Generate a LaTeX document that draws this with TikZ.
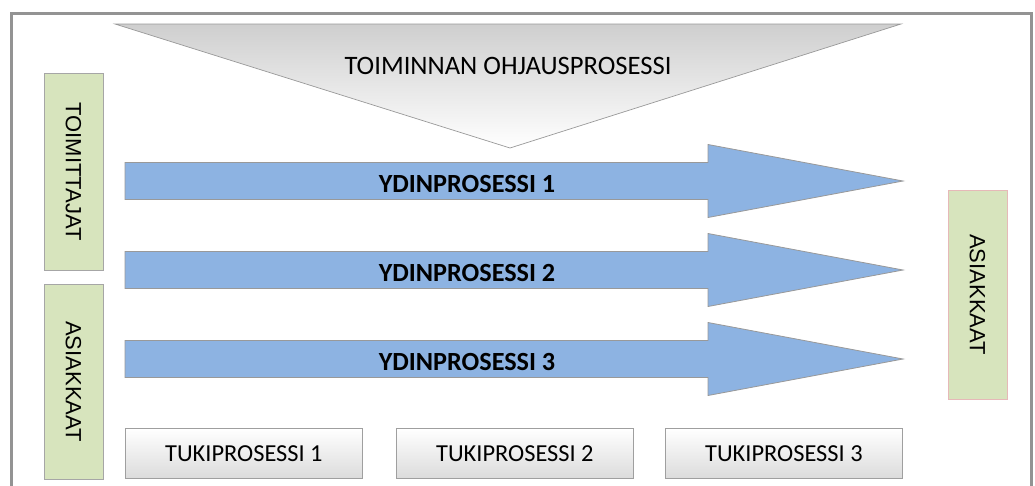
\documentclass[tikz,border=0pt]{standalone}
\usepackage{fontspec}
\setmainfont{Carlito}
\newfontfamily\arialfont{Liberation Sans}
\begin{document}
\begin{tikzpicture}[x=1pt,y=-1pt,
  sidebox/.style={draw=gray!70, line width=0.8pt},
  sidetext/.style={font=\arialfont\fontsize{22}{26}\selectfont, rotate=-90},
  flow/.style={draw=gray!80, line width=0.8pt},
  flowtext/.style={font=\bfseries\fontsize{26.2}{30}\selectfont},
  supportbox/.style={draw=gray!75, line width=0.8pt, top color=white, bottom color=gray!28,
    minimum width=237pt, minimum height=50pt, inner sep=0pt,
    font=\fontsize{24.4}{28}\selectfont, anchor=north west}]
\definecolor{flowblue}{HTML}{8DB3E2}
\definecolor{sidegreen}{HTML}{D7E4BD}
\definecolor{pinkedge}{HTML}{E6B9B8}
\useasboundingbox (0,0) rectangle (1035,485);
\clip (0,0) rectangle (1035,485);
\fill[white] (0,0) rectangle (1035,485);

% outer frame (runs off the bottom edge)
\draw[gray!85, line width=3pt] (11.5,13) rectangle (1031.5,500);

% management process: downward triangle
\shade[top color=gray!38, bottom color=white, draw=gray!80, line width=0.7pt]
  (115,24) -- (901,24) -- (510,148) -- cycle;
\node[font=\fontsize{26.6}{30}\selectfont] (ohjaus) at (508,66) {TOIMINNAN OHJAUSPROSESSI};

% suppliers and customers on the left
\draw[sidebox, fill=sidegreen] (44,73) rectangle (103,270);
\node[sidetext] (toimittajat) at (73.5,171.5) {TOIMITTAJAT};
\draw[sidebox, fill=sidegreen] (44,284) rectangle (103,479);
\node[sidetext] (asiakkaatL) at (73.5,381.5) {ASIAKKAAT};

% customers on the right
\draw[sidebox, fill=sidegreen, draw=pinkedge] (948,190) rectangle (1007,399);
\node[sidetext] (asiakkaatR) at (977.5,294.5) {ASIAKKAAT};

% core processes
\foreach \y/\n in {181/1, 270/2, 359/3}{
  \draw[flow, fill=flowblue] (125,\y-18.5) -- (708,\y-18.5) -- (708,\y-36.5) -- (903,\y)
    -- (708,\y+36.5) -- (708,\y+18.5) -- (125,\y+18.5) -- cycle;
  \node[flowtext] (ydin\n) at (467,\y+2.5) {YDINPROSESSI \n};
}

% support processes
\node[supportbox] (tuki1) at (125,428) {TUKIPROSESSI 1};
\node[supportbox] (tuki2) at (396,428) {TUKIPROSESSI 2};
\node[supportbox] (tuki3) at (665,428) {TUKIPROSESSI 3};
\end{tikzpicture}
\end{document}
